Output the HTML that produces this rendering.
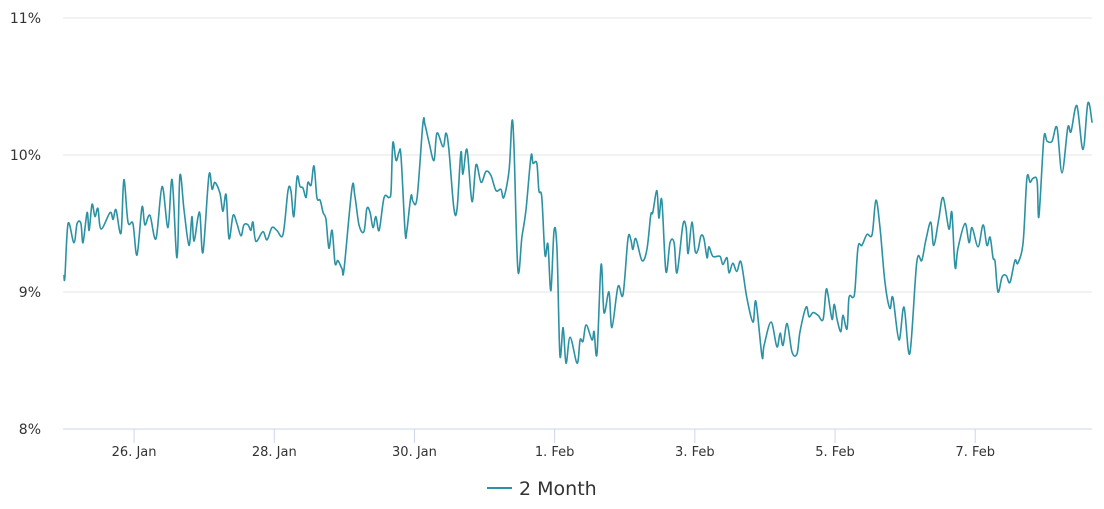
<!DOCTYPE html>
<html><head><meta charset="utf-8"><style>
body{margin:0;background:#fff;}
svg{display:block;font-family:"DejaVu Sans","Liberation Sans",sans-serif;}
</style></head><body>
<svg id="chart" width="1104" height="509">
<g id="grid"></g>
<g id="yaxis"></g>
<g id="xaxis"></g>
<g id="series"></g>
<g>
<line x1="487" y1="488" x2="512" y2="488" stroke="#2b91a3" stroke-width="2"/>
<text x="519" y="495" font-size="19" fill="#333">2 Month</text>
</g>
</svg>
<script>
// hours since 25 Jan 00:00
const hours=[0,0.3,1.4,3.4,4.5,5.8,6.5,7.9,8.6,9.6,10.6,11.6,12.7,15.8,16.8,17.8,19.5,20.5,21.9,23.6,25.0,26.7,27.7,29.4,31.5,33.6,35.6,37.0,38.7,39.7,41.1,42.8,43.8,44.5,45.9,46.6,47.6,49.6,50.7,51.7,53.4,54.4,55.5,56.5,57.9,59.2,60.6,61.6,63.0,64.0,64.7,65.7,68.1,69.5,71.2,72.9,75.0,76.7,77.7,78.7,79.8,80.8,81.8,82.9,83.5,84.6,85.6,86.6,87.7,88.7,89.7,90.7,91.8,92.8,93.8,95.2,95.9,98.6,99.6,101.0,102.7,103.7,104.8,105.8,106.8,107.9,109.6,111.3,112.0,112.6,113.7,114.7,115.4,116.8,117.4,118.8,119.5,120.9,122.9,123.6,125.0,126.7,127.7,129.8,130.8,131.8,133.5,134.6,135.9,136.6,138.0,139.7,141.1,142.8,144.5,146.2,147.9,149.6,150.6,152.4,153.4,154.1,155.4,156.8,158.2,159.9,160.6,161.9,162.6,163.6,164.7,165.7,166.7,167.8,168.8,169.8,170.9,171.9,173.3,175.7,176.7,177.7,178.8,180.8,181.5,182.5,183.9,184.9,186.6,187.6,189.7,191.4,193.1,194.1,194.8,195.8,197.9,199.6,200.9,201.6,203.0,203.7,204.7,206.1,207.5,208.9,209.9,211.9,213.0,213.7,215.0,216.1,217.1,218.1,219.1,220.2,220.8,222.2,224.6,225.6,227.0,227.7,229.0,230.4,231.8,233.8,235.9,236.9,239.0,239.7,242.1,244.1,245.2,246.2,247.6,249.3,251.0,252.0,254.1,255.1,256.5,258.2,259.9,260.9,261.6,263.0,263.7,264.7,266.0,266.7,268.1,268.8,270.1,270.8,271.9,273.2,274.9,276.7,278.0,279.4,281.1,282.8,283.8,285.9,287.6,289.6,292.0,293.7,295.1,296.8,297.8,299.5,301.0,303.0,304.0,305.1,306.1,308.5,309.9,310.9,313.0,314.7,316.0,317.1,318.1,318.8,319.8,321.2,322.6,323.9,325.6,326.6,328.4,329.7,330.8,331.8,333.2,333.8,335.5,336.6,338.3,340.0,341.7,343.7,344.8,346.8,348.9,350.6,352.0];
const values=[9.12,9.11,9.50,9.36,9.50,9.50,9.36,9.58,9.45,9.64,9.55,9.61,9.46,9.58,9.53,9.60,9.43,9.82,9.51,9.50,9.27,9.62,9.49,9.56,9.39,9.77,9.47,9.82,9.25,9.85,9.60,9.34,9.55,9.37,9.55,9.56,9.29,9.85,9.75,9.80,9.72,9.59,9.71,9.39,9.56,9.50,9.41,9.49,9.49,9.45,9.51,9.37,9.44,9.38,9.47,9.45,9.42,9.74,9.74,9.55,9.84,9.77,9.76,9.69,9.80,9.78,9.92,9.69,9.67,9.58,9.53,9.32,9.45,9.21,9.23,9.17,9.17,9.76,9.70,9.49,9.44,9.61,9.58,9.47,9.55,9.45,9.69,9.69,9.74,10.09,9.96,10.02,9.99,9.44,9.45,9.70,9.66,9.69,10.23,10.22,10.09,9.96,10.16,10.06,10.16,10.04,9.61,9.61,10.02,9.86,10.04,9.66,9.93,9.80,9.88,9.85,9.74,9.75,9.69,9.89,10.25,10.04,9.16,9.40,9.60,9.99,9.94,9.94,9.74,9.69,9.27,9.35,9.01,9.45,9.31,8.54,8.74,8.48,8.67,8.48,8.65,8.64,8.76,8.65,8.71,8.55,9.20,8.85,9.00,8.74,9.04,8.98,9.39,9.38,9.31,9.39,9.23,9.31,9.56,9.58,9.74,9.54,9.67,9.15,9.36,9.36,9.14,9.49,9.47,9.28,9.51,9.30,9.31,9.41,9.39,9.25,9.33,9.26,9.26,9.20,9.25,9.14,9.21,9.15,9.22,8.96,8.78,8.93,8.53,8.61,8.78,8.60,8.70,8.61,8.77,8.56,8.55,8.71,8.89,8.82,8.85,8.83,8.80,9.01,8.98,8.80,8.91,8.80,8.71,8.83,8.73,8.96,8.96,9.01,9.33,9.34,9.42,9.42,9.67,9.47,9.07,8.88,8.96,8.65,8.89,8.55,9.22,9.23,9.38,9.51,9.34,9.53,9.69,9.46,9.58,9.18,9.32,9.50,9.36,9.47,9.33,9.49,9.34,9.40,9.25,9.22,9.00,9.11,9.12,9.07,9.23,9.21,9.36,9.83,9.80,9.83,9.81,9.55,10.12,10.10,10.10,10.20,9.87,10.20,10.17,10.36,10.04,10.38,10.24];
const yTicks=[8,9,10,11];
const yTickLabels=["8%","9%","10%","11%"];
const xTickHours=[24,72,120,168,216,264,312];
const xTickLabels=["26. Jan","28. Jan","30. Jan","1. Feb","3. Feb","5. Feb","7. Feb"];

const NS="http://www.w3.org/2000/svg";
const X0=64, PXH=1/0.3424, Y0=18, PXV=137, YMAX=11;
function xs(h){return X0+h*PXH;}
function ys(v){return Y0+(YMAX-v)*PXV;}
function mk(tag,attrs,parent){const e=document.createElementNS(NS,tag);for(const k in attrs)e.setAttribute(k,attrs[k]);parent.appendChild(e);return e;}

const grid=document.getElementById('grid'),ya=document.getElementById('yaxis'),xa=document.getElementById('xaxis'),ser=document.getElementById('series');
yTicks.forEach((v,i)=>{
  const l=mk('line',{x1:63,x2:1092,y1:ys(v),y2:ys(v),stroke:v===8?'#ccd6eb':'#e6e6e6','stroke-width':1},grid);
  
  
  const t=mk('text',{x:41,y:ys(v)+5,'text-anchor':'end','font-size':14,fill:'#333'},ya);
  t.textContent=yTickLabels[i];
  
  
});
xTickHours.forEach((h,i)=>{
  const tk=mk('line',{x1:xs(h),x2:xs(h),y1:429,y2:443,stroke:'#ccd6eb','stroke-width':1},xa);
  
  
  const t=mk('text',{x:xs(h),y:456,'text-anchor':'middle','font-size':13,fill:'#333'},xa);
  t.textContent=xTickLabels[i];
  
  
});
const P=hours.map((h,i)=>[xs(h),ys(values[i])]);
let d='M'+P[0][0].toFixed(1)+','+P[0][1].toFixed(1);
for(let i=0;i<P.length-1;i++){
  const p0=P[Math.max(0,i-1)],p1=P[i],p2=P[i+1],p3=P[Math.min(P.length-1,i+2)];
  const c1=[p1[0]+(p2[0]-p0[0])/6,p1[1]+(p2[1]-p0[1])/6];
  const c2=[p2[0]-(p3[0]-p1[0])/6,p2[1]-(p3[1]-p1[1])/6];
  d+=' C'+c1[0].toFixed(1)+','+c1[1].toFixed(1)+' '+c2[0].toFixed(1)+','+c2[1].toFixed(1)+' '+p2[0].toFixed(1)+','+p2[1].toFixed(1);
}
const pl=mk('path',{d:d,fill:'none',stroke:'#2b91a3','stroke-width':1.6,'stroke-linejoin':'round','stroke-linecap':'round'},ser);


</script>
</body></html>
